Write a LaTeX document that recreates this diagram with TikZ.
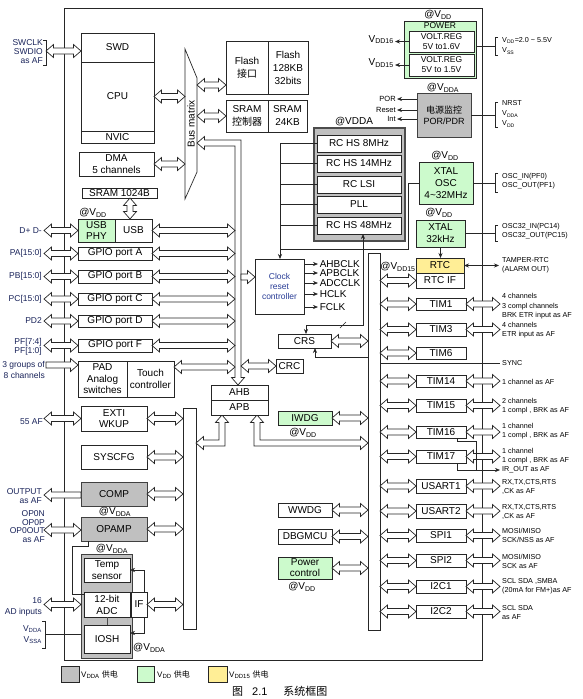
\documentclass[tikz,border=0pt]{standalone}
\usepackage{fontspec}
\setmainfont{Liberation Sans}
\newfontfamily\cjk{Noto Sans CJK SC}
\usetikzlibrary{calc,arrows.meta}
\definecolor{gfill}{RGB}{192,192,192}
\definecolor{grn}{RGB}{204,250,204}
\definecolor{ylw}{RGB}{255,238,150}
\definecolor{navy}{RGB}{25,35,90}
\definecolor{clkblue}{RGB}{40,60,150}
\newcommand\sbs[1]{\textsubscript{#1}}
\newcommand\bx[7][]{%
  \pgfmathsetmacro\bxw{#5-#3}\pgfmathsetmacro\bxh{#6-#4}%
  \pgfmathsetmacro\bxx{(#3+#5)/2}\pgfmathsetmacro\bxy{(#4+#6)/2}%
  \node[box,minimum width=\bxw pt,minimum height=\bxh pt,#1] (#2) at (\bxx,\bxy) {#7};}
\def\pipL{7.5pt}\def\pipH{6.5pt}\def\pipS{3pt}
\newcommand\pipeD[2]{\draw[pipe] let \p1=(#1),\p2=(#2) in
  (\x1,\y1) -- ({\x1+\pipL},{\y1+\pipH}) -- ({\x1+\pipL},{\y1+\pipS}) -- ({\x2-\pipL},{\y1+\pipS})
  -- ({\x2-\pipL},{\y1+\pipH}) -- (\x2,\y1) -- ({\x2-\pipL},{\y1-\pipH}) -- ({\x2-\pipL},{\y1-\pipS})
  -- ({\x1+\pipL},{\y1-\pipS}) -- ({\x1+\pipL},{\y1-\pipH}) -- cycle;}
\newcommand\pipeR[2]{\draw[pipe] let \p1=(#1),\p2=(#2) in
  (\x1,{\y1+\pipS}) -- ({\x2-\pipL},{\y1+\pipS}) -- ({\x2-\pipL},{\y1+\pipH}) -- (\x2,\y1)
  -- ({\x2-\pipL},{\y1-\pipH}) -- ({\x2-\pipL},{\y1-\pipS}) -- (\x1,{\y1-\pipS}) -- cycle;}
\newcommand\pipeL[2]{\draw[pipe] let \p1=(#1),\p2=(#2) in
  (\x1,\y1) -- ({\x1+\pipL},{\y1+\pipH}) -- ({\x1+\pipL},{\y1+\pipS}) -- (\x2,{\y1+\pipS})
  -- (\x2,{\y1-\pipS}) -- ({\x1+\pipL},{\y1-\pipS}) -- ({\x1+\pipL},{\y1-\pipH}) -- cycle;}
\newcommand\pipeV[2]{\draw[pipe] let \p1=(#1),\p2=(#2) in
  (\x1,\y1) -- ({\x1+\pipH},{\y1-\pipL}) -- ({\x1+\pipS},{\y1-\pipL}) -- ({\x1+\pipS},{\y2+\pipL})
  -- ({\x1+\pipH},{\y2+\pipL}) -- (\x1,\y2) -- ({\x1-\pipH},{\y2+\pipL}) -- ({\x1-\pipS},{\y2+\pipL})
  -- ({\x1-\pipS},{\y1-\pipL}) -- ({\x1-\pipH},{\y1-\pipL}) -- cycle;}
\newcommand\rbrk[2]{\draw[conn] let \p1=(#1) in (\x1,\y1) -- (495pt,\y1)
  (498pt,{\y1+#2pt}) -- (495pt,{\y1+#2pt}) -- (495pt,{\y1-#2pt}) -- (498pt,{\y1-#2pt});}
\begin{document}
\begin{tikzpicture}[x=1pt,y=-1pt,
  box/.style={draw=black!85,line width=0.7pt,inner sep=0pt,outer sep=0pt,align=center,
    font=\fontsize{10}{12.5}\selectfont,fill=white},
  grbox/.style={box,fill=gfill,draw=black!75,line width=0.9pt},
  gnbox/.style={box,fill=grn},
  ybox/.style={box,fill=ylw},
  pipe/.style={draw=black!85,fill=white,line width=0.7pt,line join=miter},
  conn/.style={draw=black!85,line width=0.6pt},
  tip/.style={-{Stealth[length=5pt,width=4pt]}},
  tips/.style={{Stealth[length=5pt,width=4pt]}-{Stealth[length=5pt,width=4pt]}},
  lbl/.style={font=\fontsize{8.5}{9}\selectfont,text=navy,align=right,inner sep=0pt,anchor=east},
  rlbl/.style={font=\fontsize{7.2}{9}\selectfont,align=left,inner sep=0pt,anchor=west},
  vdd/.style={font=\fontsize{10}{10}\selectfont,inner sep=0pt},
]
\useasboundingbox (0,0) rectangle (582,699);
\fill[white] (0,0) rectangle (582,699);

% chip
\bx[fill=none,line width=0.8pt]{chip}{64}{8}{482}{660}{}

% bars
\bx{lbar}{183}{408}{196}{629}{}
\bx{rbar}{368}{253}{380}{630}{}

% bus matrix
\draw[pipe] (185,49) -- (197,78) -- (197,172) -- (185,199) -- cycle;
\node[rotate=90,font=\fontsize{10}{10}\selectfont,inner sep=0pt] (bmtxt) at (191,124) {Bus matrix};
\coordinate (bmL) at (185,0); \coordinate (bmR) at (197,0);

% AHB pipe
\draw[pipe] (197,143) -- (204.5,136.5) -- (204.5,140) -- (241,140) -- (241,377.5) -- (244.5,377.5)
  -- (238,385) -- (231.5,377.5) -- (235,377.5) -- (235,146) -- (204.5,146) -- (204.5,149.5) -- cycle;
\coordinate (pL) at (235,0); \coordinate (pR) at (241,0);

% APB pipes
\draw[pipe] (222,415) -- (228.5,422.5) -- (225,422.5) -- (225,446) -- (203.5,446) -- (203.5,449.5)
  -- (196,443) -- (203.5,436.5) -- (203.5,440) -- (219,440) -- (219,422.5) -- (215.5,422.5) -- cycle;
\draw[pipe] (257,415) -- (263.5,422.5) -- (260,422.5) -- (260,440) -- (360.5,440) -- (360.5,436.5)
  -- (368,443) -- (360.5,449.5) -- (360.5,446) -- (254,446) -- (254,422.5) -- (250.5,422.5) -- cycle;

% left column
\bx{swd}{81}{33}{154}{62}{SWD}
\bx{cpu}{81}{62}{154}{131}{CPU}
\bx{nvic}{81}{131}{154}{143}{NVIC}
\bx{dma}{79}{152}{154}{176}{DMA\\5 channels}
\bx{sramk}{82}{188}{157}{198}{SRAM 1024B}
\bx[gnbox,font=\fontsize{10}{11.5}\selectfont]{usbphy}{78}{219}{115}{242}{USB\\PHY}
\bx{usb}{115}{219}{152}{242}{USB}
\bx{gpa}{78}{247}{152}{260}{GPIO port A}
\bx{gpb}{78}{270}{152}{283}{GPIO port B}
\bx{gpc}{78}{293}{152}{305}{GPIO port C}
\bx{gpd}{78}{315}{152}{327}{GPIO port D}
\bx{gpf}{78}{339}{152}{352}{GPIO port F}
\bx[font=\fontsize{10}{11.5}\selectfont]{pad}{78}{361}{127}{397}{PAD\\Analog\\switches}
\bx[font=\fontsize{10}{12}\selectfont]{touch}{127}{361}{174}{397}{Touch\\controller}
\bx[font=\fontsize{10}{11.5}\selectfont]{exti}{81}{406}{147}{431}{EXTI\\WKUP}
\bx{syscfg}{81}{445}{147}{469}{SYSCFG}
\bx[grbox]{comp}{81}{482}{147}{506}{COMP}
\bx[grbox]{opamp}{81}{517}{147}{541}{OPAMP}
\bx[grbox]{adcg}{81}{554}{132}{658}{}
\bx[font=\fontsize{10}{12}\selectfont]{temp}{84}{558}{130}{582}{Temp\\sensor}
\bx[font=\fontsize{10}{12}\selectfont]{adc}{84}{592}{130}{617}{12-bit\\ADC}
\bx{iosh}{84}{625}{130}{653}{IOSH}
\bx{ifb}{131}{592}{147}{617}{IF}

% memories
\bx[font=\fontsize{10}{13}\selectfont]{flif}{226}{41}{268}{94}{Flash\\{\cjk 接口}}
\bx[font=\fontsize{10}{13}\selectfont]{flash}{268}{41}{308}{94}{Flash\\128KB\\32bits}
\bx[font=\fontsize{10}{13}\selectfont]{sramc}{226}{100}{268}{132}{SRAM\\{\cjk 控制器}}
\bx[font=\fontsize{10}{13}\selectfont]{sram}{268}{100}{307}{132}{SRAM\\24KB}

% RC block
\bx[grbox,line width=1.3pt,draw=black!70]{rcb}{314}{128}{405}{241}{}
\bx{rc8}{317}{135}{401}{152}{RC HS 8MHz}
\bx{rc14}{317}{155}{401}{172}{RC HS 14MHz}
\bx{rclsi}{317}{176}{401}{193}{RC LSI}
\bx{pll}{317}{196}{401}{213}{PLL}
\bx{rc48}{317}{217}{401}{234}{RC HS 48MHz}
\node[vdd] (vrc) at (354,122) {@VDDA};

% middle
\bx[font=\fontsize{8.5}{10}\selectfont,text=clkblue]{clk}{255}{259}{304}{314}{Clock\\reset\\controller}
\bx{crs}{278}{334}{331}{348}{CRS}
\bx{crc}{276}{359}{303}{373}{CRC}
\bx{ahb}{211}{385}{268}{400}{AHB}
\bx{apb}{211}{400}{268}{415}{APB}
\bx[gnbox]{iwdg}{278}{411}{332}{425}{IWDG}
\bx{wwdg}{278}{503}{332}{517}{WWDG}
\bx{dbg}{278}{529}{332}{544}{DBGMCU}
\bx[gnbox,font=\fontsize{10}{11}\selectfont]{pwrc}{278}{557}{332}{579}{Power\\control}

% right column
\bx[gnbox]{power}{404}{21}{476}{78}{}
\node[font=\fontsize{8.5}{9}\selectfont,inner sep=0pt] (powt) at (440,26) {POWER};
\bx[font=\fontsize{8.5}{10}\selectfont]{vr16}{409}{31}{474}{52}{VOLT.REG\\5V to1.6V}
\bx[font=\fontsize{8.5}{10}\selectfont]{vr15}{409}{54}{474}{76}{VOLT.REG\\5V to 1.5V}
\bx[grbox,font=\fontsize{9}{11}\selectfont]{por}{417}{93}{471}{137}{{\cjk 电源监控}\\POR/PDR}
\bx[gnbox,font=\fontsize{10}{12}\selectfont]{xosc}{419}{162}{473}{204}{XTAL\\OSC\\4\textasciitilde 32MHz}
\bx[gnbox,font=\fontsize{10}{12}\selectfont]{x32}{416}{220}{465}{247}{XTAL\\32kHz}
\bx[ybox]{rtc}{416}{258}{464}{273}{RTC}
\bx{rtcif}{416}{273}{464}{288}{RTC IF}
\bx{tim1}{416}{298}{466}{310}{TIM1}
\bx{tim3}{416}{323}{466}{336}{TIM3}
\bx{tim6}{416}{347}{466}{359}{TIM6}
\bx{tim14}{416}{375}{466}{387}{TIM14}
\bx{tim15}{416}{399}{466}{412}{TIM15}
\bx{tim16}{416}{426}{466}{438}{TIM16}
\bx{tim17}{416}{450}{466}{463}{TIM17}
\bx{usart1}{416}{479}{466}{493}{USART1}
\bx{usart2}{416}{504}{466}{518}{USART2}
\bx{spi1}{416}{529}{466}{542}{SPI1}
\bx{spi2}{416}{554}{466}{567}{SPI2}
\bx{i2c1}{416}{580}{466}{593}{I2C1}
\bx{i2c2}{416}{605}{466}{618}{I2C2}

% supply labels
\node[vdd] (v1) at (438,15) {@V\sbs{DD}};
\node[vdd] (v2) at (443,88) {@V\sbs{DDA}};
\node[vdd] (v3) at (445,156) {@V\sbs{DD}};
\node[vdd] (v4) at (439,213) {@V\sbs{DD}};
\node[vdd] (v5) at (398,267) {@V\sbs{DD15}};
\node[vdd] (v6) at (93,213) {@V\sbs{DD}};
\node[vdd] (v7) at (115,512) {@V\sbs{DDA}};
\node[vdd] (v8) at (112,549) {@V\sbs{DDA}};
\node[vdd,anchor=west] (v9) at (133,648) {@V\sbs{DDA}};
\node[vdd] (v10) at (303,433) {@V\sbs{DD}};
\node[vdd] (v11) at (302,587) {@V\sbs{DD}};

% bus matrix connections
\pipeD{cpu.east}{cpu.east -| bmL}
\pipeD{dma.east}{dma.east -| bmL}
\coordinate (fla) at ($(flif.south west)+(0,-9)$);
\pipeD{fla -| bmR}{fla}
\pipeD{sramc.west -| bmR}{sramc.west}
\coordinate (sk) at ($(sramk.south)+(10.5,0)$);
\pipeV{sk}{sk |- usb.north}

% AHB peripherals
\pipeD{usb.east}{usb.east -| pL}
\foreach \g in {gpa,gpb,gpc,gpd,gpf} {\pipeD{\g.east}{\g.east -| pL}}
\coordinate (tc) at ($(touch.east)+(0,-12)$);
\pipeD{tc}{tc -| pL}
\coordinate (ckin) at ($(clk.west)+(0,-9.5)$);
\pipeR{ckin -| pR}{ckin}
\pipeD{crc.west -| pR}{crc.west}

% left external
\coordinate (swl) at (46,51);
\pipeD{swl}{swl -| swd.west}
\draw[conn] (43,40) -- (46,40) -- (46,65) -- (43,65);
\coordinate (lx) at (44,0);
\pipeD{usbphy.west -| lx}{usbphy.west}
\foreach \g in {gpa,gpb,gpc,gpd,gpf} {\pipeD{\g.west -| lx}{\g.west}}
\coordinate (grp) at (46,365);
\pipeR{grp}{grp -| pad.west}
\pipeD{exti.west -| lx}{exti.west}
\coordinate (cmp) at ($(comp.west)+(0,1)$);
\pipeL{cmp -| lx}{cmp}
\coordinate (opa) at ($(opamp.west)+(0,1)$);
\pipeD{opa -| lx}{opa}
\pipeD{adc.west -| lx}{adc.west -| adcg.west}
\draw[conn] (42,621) -- (45,621) -- (45,648) -- (42,648);
\coordinate (vb) at (45,634);
\draw[conn] (vb) -- (vb -| adcg.west);

% to APB left bar
\foreach \g in {exti,syscfg,comp,opamp,ifb} {\pipeD{\g.east}{\g.east -| lbar.west}}

% to APB right bar
\foreach \g in {crs,iwdg,wwdg,dbg,pwrc} {\pipeD{\g.east}{\g.east -| rbar.west}}
\foreach \g in {rtcif,tim1,tim3,tim6,tim14,tim15,tim16,tim17,usart1,usart2,spi1,spi2,i2c1,i2c2}
  {\pipeD{rbar.east |- \g.west}{\g.west}}
\coordinate (rx) at (500,0);
\foreach \g in {tim1,tim3,tim14,tim15,tim16,tim17,usart1,usart2,spi1,spi2,i2c1,i2c2}
  {\pipeD{\g.east}{\g.east -| rx}}

% ADC internals
\draw[conn,line width=1pt,draw=black!70] (adc.south) -- (adc.south |- iosh.north);
\draw[conn,tip] ($(ifb.north)+(5,0)$) |- (temp.east);
\draw[conn,tip] ($(ifb.south)+(5,0)$) |- ($(iosh.east)+(0,-6)$);
\draw[conn] ($(opamp.south west)+(7,0)$) |- (72,546) |- ($(adc.west)+(0,-10.5)$);

% clocks
\coordinate (cv) at (280,0);
\foreach \r in {rc8,rc14,rclsi,pll,rc48} {\draw[conn] (\r.west) -- (\r.west -| cv);}
\draw[conn,tip] (rc8.west -| cv) -- (cv |- clk.north);
\coordinate (xl) at (408,249);
\draw[conn] (xosc.west) -| (xl) -- (xl -| cv);
\foreach \dy/\t [count=\i] in {5/AHBCLK,14/APBCLK,24/ADCCLK,35/HCLK,48/FCLK}
  {\draw[conn,tip] ($(clk.north east)+(0,\dy)$) -- ++(14,0)
     node[anchor=west,inner sep=1.5pt,font=\fontsize{10}{10}\selectfont] (co\i) {\t};}
\coordinate (crst) at ($(crs.north)+(1.5,0)$);
\coordinate (r48b) at ($(rc48.south)+(4,0)$);
\coordinate (crsy) at (0,325);
\draw[conn,tips] (crst) -- (crst |- crsy) -- (r48b |- crsy) -- (r48b);
\draw[conn] (340,328) -- (346,322);
\coordinate (cb) at ($(crs.south)+(10.5,0)$);
\coordinate (y357) at (0,357);
\draw[conn,tip] (rbar.west |- y357) -| (cb);
\draw[conn,tip] (x32.south) -- (x32.south |- rtc.north);

% power
\coordinate (va) at (395,0);
\draw[conn,tip] (vr16.west) -- (vr16.west -| va)
  node[anchor=east,inner sep=1pt,yshift=2pt,font=\fontsize{10}{10}\selectfont] (l16) {V\sbs{DD16}};
\draw[conn,tip] (vr15.west) -- (vr15.west -| va)
  node[anchor=east,inner sep=1pt,yshift=2pt,font=\fontsize{10}{10}\selectfont] (l15) {V\sbs{DD15}};
\coordinate (pa) at (397,0);
\foreach \dy/\t/\n in {6/POR/a,17/Reset/b,26/Int/c}
  {\coordinate (pm\n) at ($(por.north west)+(0,\dy)$);
   \draw[conn,tip] (pm\n) -- (pm\n -| pa) node[anchor=east,inner sep=1pt,font=\fontsize{7.5}{8}\selectfont] {\t};}
\rbrk{$(power.east)+(0,-3.5)$}{9}
\rbrk{por.east}{12.5}
\rbrk{xosc.east}{9.5}
\rbrk{x32.east}{8}
\coordinate (tamp) at (499,0);
\draw[conn,tips] (rtc.east) -- (rtc.east -| tamp);
\coordinate (syy) at (0,363);
\draw[conn] (rbar.east |- syy) -- (rx |- syy);
\draw[conn] ($(tim16.south)+(16,0)$) -- ++(0,3) -| (476,470);
\coordinate (irj) at (476,470);
\draw[conn,tip] ($(tim17.south)+(16,0)$) |- (rx |- irj);

% right labels
\node[rlbl,font=\fontsize{7.2}{10}\selectfont] (r1) at (502,46) {V\sbs{DD}=2.0 \textasciitilde{} 5.5V\\V\sbs{SS}};
\node[rlbl,font=\fontsize{7.2}{10}\selectfont] (r2) at (502,114) {NRST\\V\sbs{DDA}\\V\sbs{DD}};
\node[rlbl] (r3) at (502,181.5) {OSC\_IN(PF0)\\OSC\_OUT(PF1)};
\node[rlbl] (r4) at (502,231.5) {OSC32\_IN(PC14)\\OSC32\_OUT(PC15)};
\node[rlbl] (r5) at (502,265.5) {TAMPER-RTC\\(ALARM OUT)};
\node[rlbl,font=\fontsize{7.2}{9.5}\selectfont] (r6) at (502,306.5) {4 channels\\3 compl channels\\BRK ETR input as AF};
\node[rlbl] (r7) at (502,330) {4 channels\\ETR input as AF};
\node[rlbl] (r8) at (502,363) {SYNC};
\node[rlbl] (r9) at (502,382) {1 channel as AF};
\node[rlbl] (r10) at (502,406.5) {2 channels\\1 compl , BRK as AF};
\node[rlbl] (r11) at (502,431) {1 channel\\1 compl , BRK as AF};
\node[rlbl] (r12) at (502,456.5) {1 channel\\1 compl , BRK as AF};
\node[rlbl] (r13) at (502,470) {IR\_OUT as AF};
\node[rlbl] (r14) at (502,486.5) {RX,TX,CTS,RTS\\,CK as AF};
\node[rlbl] (r15) at (502,511.5) {RX,TX,CTS,RTS\\,CK as AF};
\node[rlbl] (r16) at (502,535.5) {MOSI/MISO\\SCK/NSS as AF};
\node[rlbl] (r17) at (502,561.5) {MOSI/MISO\\SCK as AF};
\node[rlbl] (r18) at (502,586.5) {SCL SDA ,SMBA\\(20mA for FM+)as AF};
\node[rlbl] (r19) at (502,612.5) {SCL SDA\\as AF};

% left labels
\coordinate (lt) at (42,0);
\node[lbl] (l1) at (43,52) {SWCLK\\SWDIO\\as AF};
\node[lbl] (l2) at (usbphy.west -| lt) {D+ D-};
\node[lbl] (l3) at (gpa.west -| lt) {PA[15:0]};
\node[lbl] (l4) at (gpb.west -| lt) {PB[15:0]};
\node[lbl] (l5) at (gpc.west -| lt) {PC[15:0]};
\node[lbl] (l6) at (gpd.west -| lt) {PD2};
\node[lbl] (l7) at (42,346.5) {PF[7:4]\\PF[1:0]};
\node[lbl,font=\fontsize{8.5}{11}\selectfont] (l8) at (45,369.5) {3 groups of\\8 channels};
\node[lbl] (l9) at (43,422) {55 AF};
\node[lbl,font=\fontsize{8.5}{8.5}\selectfont] (l10) at (42,496) {OUTPUT\\as AF};
\node[lbl,font=\fontsize{8.5}{8.7}\selectfont] (l11) at (45,526.5) {OP0N\\OP0P\\OP0OUT\\as AF};
\node[lbl,font=\fontsize{8.5}{11}\selectfont] (l12) at (42,606.5) {16\\AD inputs};
\node[lbl,font=\fontsize{8.5}{11}\selectfont] (l13) at (42,634.5) {V\sbs{DDA}\\V\sbs{SSA}};

% legend
\node[box,fill=gfill,minimum width=18pt,minimum height=16pt] (lg1) at (70,674) {};
\node[anchor=west,inner sep=0pt,font=\fontsize{8}{8}\selectfont] (lt1) at (81,674.5) {V\sbs{DDA} {\cjk 供电}};
\node[box,fill=grn,minimum width=17.5pt,minimum height=16pt] (lg2) at (146,674) {};
\node[anchor=west,inner sep=0pt,font=\fontsize{8}{8}\selectfont] (lt2) at (157,674.5) {V\sbs{DD} {\cjk 供电}};
\node[box,fill=ylw,minimum width=19pt,minimum height=16pt] (lg3) at (217.5,674) {};
\node[anchor=west,inner sep=0pt,font=\fontsize{8}{8}\selectfont] (lt3) at (229,674.5) {V\sbs{DD15} {\cjk 供电}};
\node[anchor=west,inner sep=0pt,font=\fontsize{11}{11}\selectfont] (cap) at (232,691)
  {{\cjk 图}\hspace{9pt}2.1\hspace{16pt}{\cjk 系统框图}};
\end{tikzpicture}
\end{document}
